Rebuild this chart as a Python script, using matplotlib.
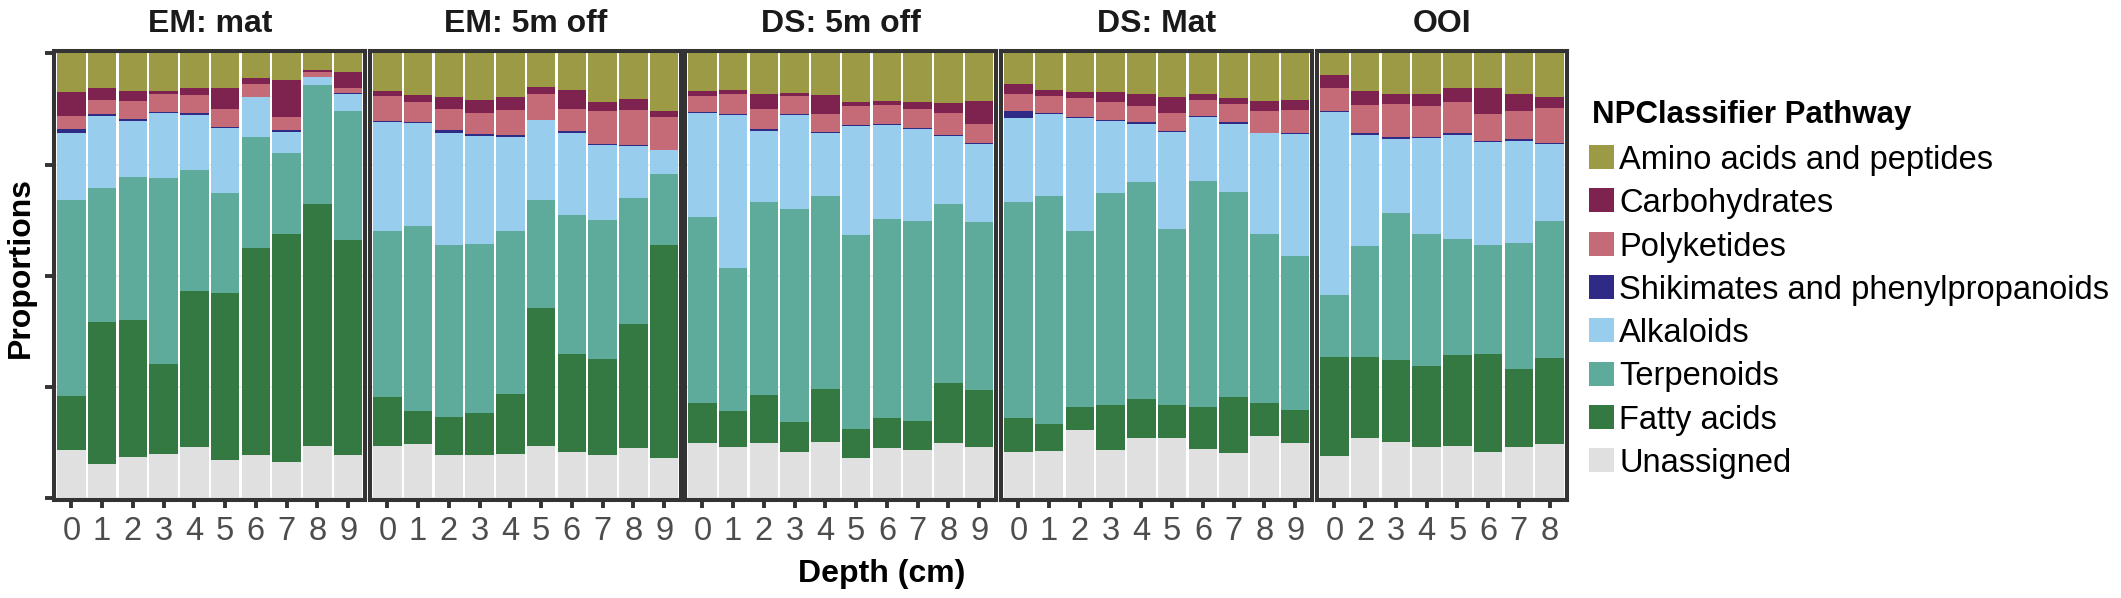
import numpy as np
import matplotlib
matplotlib.use("Agg")
import matplotlib.pyplot as plt
from matplotlib.patches import Rectangle

plt.rcParams['font.family'] = ['Liberation Sans', 'DejaVu Sans']

# ---------------- data (percent of features per sample) ----------------
sites = ["EM: mat", "EM: 5m off", "DS: 5m off", "DS: Mat", "OOI"]
depth_labels = [
    ["0", "1", "2", "3", "4", "5", "6", "7", "8", "9"],
    ["0", "1", "2", "3", "4", "5", "6", "7", "8", "9"],
    ["0", "1", "2", "3", "4", "5", "6", "7", "8", "9"],
    ["0", "1", "2", "3", "4", "5", "6", "7", "8", "9"],
    ["0", "2", "3", "4", "5", "6", "7", "8"],
]

# stacking order: bottom -> top
unassigned = [10.9, 7.7, 9.2, 9.9, 11.6, 8.7, 9.7, 8.2, 11.8, 9.7,
              11.8, 12.1, 9.7, 9.8, 10.0, 11.8, 10.3, 9.7, 11.3, 9.0,
              12.4, 11.6, 12.4, 10.5, 12.7, 9.1, 11.3, 10.8, 12.5, 11.6,
              10.5, 10.6, 15.4, 10.9, 13.5, 13.5, 11.0, 10.1, 14.0, 12.4,
              9.4, 13.6, 12.7, 11.6, 11.8, 10.4, 11.6, 12.2]
fatty_acids = [12.0, 32.0, 30.9, 20.2, 35.0, 37.5, 46.4, 51.2, 54.2, 48.2,
               10.9, 7.6, 8.5, 9.4, 13.5, 30.9, 22.2, 21.6, 27.9, 47.9,
               9.1, 7.9, 10.7, 6.6, 11.9, 6.4, 6.7, 6.7, 13.5, 12.7,
               7.6, 6.0, 5.2, 10.0, 8.8, 7.4, 9.6, 12.7, 7.5, 7.5,
               22.4, 18.1, 18.4, 18.2, 20.3, 21.9, 17.4, 19.3]
terpenoids = [44.0, 30.1, 32.1, 41.8, 27.2, 22.5, 24.9, 18.3, 26.7, 29.1,
              37.3, 41.6, 38.7, 38.0, 36.5, 24.4, 31.2, 31.2, 28.3, 16.1,
              41.6, 32.1, 43.4, 47.8, 43.4, 43.8, 44.8, 44.9, 40.1, 37.7,
              48.5, 51.2, 39.6, 47.8, 48.8, 39.6, 50.6, 45.9, 37.8, 34.7,
              13.9, 25.1, 33.1, 29.6, 26.2, 24.6, 28.3, 30.9]
alkaloids = [15.2, 16.0, 12.4, 14.6, 12.4, 14.5, 9.0, 4.7, 1.8, 3.8,
             24.5, 23.1, 25.2, 24.3, 21.1, 17.8, 18.3, 17.0, 11.6, 5.3,
             23.5, 34.4, 16.0, 21.3, 14.2, 24.5, 21.0, 20.6, 15.3, 17.6,
             18.8, 18.4, 25.4, 16.1, 13.0, 21.7, 14.5, 15.4, 22.6, 27.3,
             41.0, 24.9, 16.6, 21.5, 23.3, 23.0, 23.1, 17.2]
shikimates = [0.7, 0.5, 0.6, 0.2, 0.4, 0.3, 0.2, 0.3, 0.1, 0.2,
              0.2, 0.2, 0.6, 0.4, 0.5, 0.2, 0.6, 0.2, 0.2, 0.1,
              0.2, 0.2, 0.3, 0.2, 0.2, 0.2, 0.2, 0.3, 0.2, 0.2,
              1.6, 0.4, 0.2, 0.2, 0.4, 0.2, 0.2, 0.4, 0.2, 0.3,
              0.3, 0.4, 0.3, 0.3, 0.4, 0.4, 0.3, 0.3]
polyketides = [3.1, 3.2, 4.1, 4.1, 4.1, 4.0, 2.8, 3.0, 1.1, 1.1,
               5.8, 4.5, 4.7, 4.7, 5.7, 5.8, 4.9, 7.3, 7.8, 7.4,
               3.6, 4.6, 4.7, 4.0, 4.0, 4.2, 4.2, 4.3, 5.0, 4.3,
               3.9, 3.8, 4.2, 4.0, 3.5, 4.1, 3.5, 4.1, 4.9, 5.1,
               5.3, 6.4, 7.6, 7.0, 6.9, 5.9, 6.4, 7.8]
carbohydrates = [5.2, 2.8, 2.1, 0.6, 1.5, 4.6, 1.3, 8.2, 0.4, 3.7,
                 1.0, 1.5, 2.8, 2.8, 2.8, 1.6, 4.3, 2.1, 2.5, 1.3,
                 1.0, 0.8, 3.2, 0.7, 4.3, 1.0, 1.1, 1.6, 2.2, 5.2,
                 2.2, 1.3, 1.3, 2.2, 2.8, 3.6, 1.3, 1.3, 2.3, 2.2,
                 2.8, 3.1, 2.2, 2.7, 3.1, 5.8, 3.8, 2.5]
amino_acids = [8.8, 7.7, 8.5, 8.5, 7.9, 7.9, 5.6, 6.1, 3.8, 4.1,
               8.5, 9.4, 9.7, 10.6, 9.9, 7.5, 8.2, 10.9, 10.3, 13.0,
               8.5, 8.3, 9.2, 8.9, 9.4, 10.9, 10.6, 10.9, 11.2, 10.7,
               6.9, 8.2, 8.8, 8.8, 9.1, 9.8, 9.2, 10.0, 10.6, 10.6,
               4.9, 8.5, 9.1, 9.1, 7.9, 7.9, 9.1, 9.9]

pathways = ["Unassigned", "Fatty acids", "Terpenoids", "Alkaloids",
            "Shikimates and phenylpropanoids", "Polyketides",
            "Carbohydrates", "Amino acids and peptides"]
colors = ["#E0E0E0", "#357942", "#5FAB9B", "#99CDEE",
          "#2E2A86", "#C56B78", "#7E234F", "#9D9A45"]

series = np.array([unassigned, fatty_acids, terpenoids, alkaloids,
                   shikimates, polyketides, carbohydrates, amino_acids], float)
props = series / series.sum(axis=0)   # position = "fill"

# ---------------- figure ----------------
W, H = 2121, 598
fig = plt.figure(figsize=(W / 100, H / 100), dpi=100)

def fx(px):
    return px / W

def fy(py):
    return 1 - py / H

u = 30.75                    # pixels per bar slot
data_left = [56, 372, 687, 1003, 1319]
top_px, bot_px = 51.3, 500.3
pad = 0.06
border_col = "#333333"

start = 0
for i, site in enumerate(sites):
    labels = depth_labels[i]
    n = len(labels)
    left_px = data_left[i] - pad * u
    width_px = (n + 2 * pad) * u
    ax = fig.add_axes([fx(left_px), fy(bot_px), fx(width_px), (bot_px - top_px) / H])
    x = np.arange(n)
    bottom = np.zeros(n)
    for k in range(len(pathways)):
        vals = props[k, start:start + n]
        ax.bar(x, vals, bottom=bottom, width=0.92, color=colors[k],
               linewidth=0, zorder=2)
        bottom = bottom + vals
    start += n

    ax.set_xlim(-0.5 - pad, n - 0.5 + pad)
    extra = 2.0 / (498.3 - 53.3)
    ax.set_ylim(-extra, 1 + extra)
    ax.set_yticks([0, 0.25, 0.5, 0.75, 1.0])
    ax.yaxis.grid(True, color="#EBEBEB", linewidth=1.2, zorder=0)
    ax.set_axisbelow(True)
    ax.set_xticks(x)
    ax.set_xticklabels(labels, fontsize=23.5, color="#4D4D4D")
    ax.tick_params(axis="x", length=6, width=2.8, color=border_col, pad=5)
    if i == 0:
        ax.tick_params(axis="y", length=6.5, width=2.8, color=border_col,
                       labelleft=False)
    else:
        ax.tick_params(axis="y", left=False, labelleft=False)
    for sp in ax.spines.values():
        sp.set_linewidth(2.9)
        sp.set_color(border_col)
        sp.set_zorder(5)

    cx = data_left[i] + n * u / 2
    fig.text(fx(cx), fy(32.3), site, ha="center", va="baseline",
             fontsize=23, fontweight="bold", color="#1A1A1A")

fig.text(fx(882), fy(582), "Depth (cm)", ha="center", va="baseline",
         fontsize=23, fontweight="bold", color="black")
fig.text(fx(21), fy(268), "Proportions", ha="center", va="center",
         rotation=90, fontsize=23, fontweight="bold", color="black")

# ---------------- legend ----------------
fig.text(fx(1592), fy(123), "NPClassifier Pathway", ha="left", va="baseline",
         fontsize=22.5, fontweight="bold", color="black")
legend_order = list(range(len(pathways)))[::-1]
for j, k in enumerate(legend_order):
    cy = 157 + 43.3 * j
    fig.add_artist(Rectangle((fx(1589), fy(cy + 12)), fx(25), 24 / H,
                             transform=fig.transFigure, facecolor=colors[k],
                             edgecolor="none"))
    fig.text(fx(1619), fy(cy + 12), pathways[k], ha="left", va="baseline",
             fontsize=23.5, color="black")

fig.savefig("out.png", dpi=100)
